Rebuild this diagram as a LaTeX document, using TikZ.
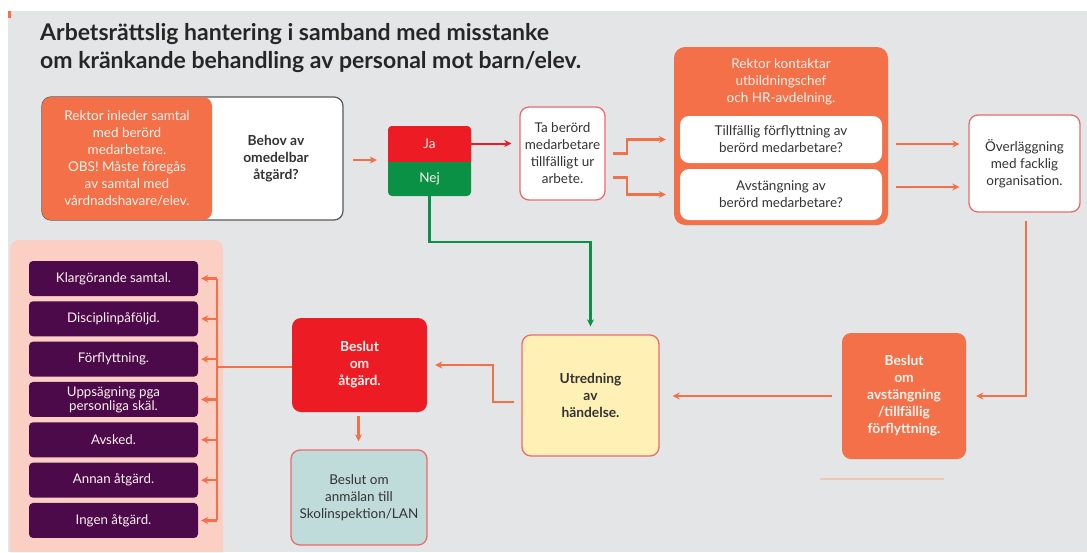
\documentclass[tikz,border=0pt]{standalone}
\usepackage{fontspec}
\setmainfont{Lato}
\usetikzlibrary{arrows.meta,calc}
\definecolor{bg}{HTML}{E4E5E7}
\definecolor{org}{HTML}{F37048}
\definecolor{rd}{HTML}{ED1C24}
\definecolor{gr}{HTML}{0A9146}
\definecolor{pur}{HTML}{4D0A4B}
\definecolor{pink}{HTML}{FBCFC4}
\definecolor{yel}{HTML}{FFF1B6}
\definecolor{teal}{HTML}{C0DCDA}
\definecolor{bord}{HTML}{EE6B6B}
\definecolor{txt}{HTML}{333333}
\definecolor{wtxt}{HTML}{FFF3EE}
\definecolor{faint}{HTML}{F2C6B4}
\tikzset{
  base/.style={align=center, inner sep=0pt, rounded corners=9pt},
  plain/.style={base, font=\fontsize{13.5}{17}\selectfont, text=txt},
  bold/.style={base, font=\bfseries\fontsize{13.8}{17}\selectfont},
  wbox/.style={plain, fill=white, draw=bord, line width=1.3pt},
  purbox/.style={base, rounded corners=4pt, fill=pur, text=wtxt, minimum width=169pt, minimum height=35pt, font=\fontsize{13.3}{14}\selectfont},
  titletxt/.style={anchor=base west, inner sep=0pt, text=black!85, font=\bfseries\fontsize{23}{28}\selectfont},
  oarrow/.style={draw=org, line width=2.2pt, -{Stealth[length=7pt,width=7pt]}},
  oline/.style={draw=org, line width=2.2pt},
}
\begin{document}
\begin{tikzpicture}[x=1pt,y=-1pt]
\useasboundingbox (0,0) rectangle (1087,552);
\fill[white] (0,0) rectangle (1087,552);
\fill[bg] (8,11) rectangle (1087,552);
\fill[org] (8,11) rectangle (11,18);

% title
\node[titletxt] (title1) at (40,40) {Arbetsrättslig hantering i samband med misstanke};
\node[titletxt] (title2) at (40,68) {om kränkande behandling av personal mot barn/elev.};

% first pair of boxes
\node[base, fill=white, draw=black!65, line width=1.2pt, minimum width=301pt, minimum height=123pt] (B) at (192.5,158.5) {};
\node[bold, text=txt, anchor=center] (Btxt) at (276,159) {Behov av\\omedelbar\\åtgärd?};
\node[plain, fill=org, text=wtxt, minimum width=170pt, minimum height=123pt] (A) at (127,158.5)
  {Rektor inleder samtal\\med berörd\\medarbetare.\\OBS! Måste föregås\\av samtal med\\vårdnadshavare/elev.};

% Ja / Nej
\begin{scope}
\fill[gr, rounded corners=4pt] (388,126) rectangle (471,196);
\clip (388,126) rectangle (471,161);
\fill[rd, rounded corners=4pt] (388,126) rectangle (471,196);
\end{scope}
\node[plain, text=wtxt, minimum width=83pt, minimum height=35pt] (ja) at (429.5,143.5) {Ja};
\node[plain, text=wtxt, minimum width=83pt, minimum height=35pt] (nej) at (429.5,178.5) {Nej};

% Ta berörd
\node[wbox, minimum width=85pt, minimum height=93pt, text depth=0pt] (ta) at (562.5,153.5)
  {Ta berörd\\medarbetare\\tillfälligt ur\\arbete.};

% big orange box
\node[base, rounded corners=11pt, fill=org, minimum width=214pt, minimum height=178pt] (big) at (781,136) {};
\node[plain, text=wtxt] (bigtxt) at (781,82) {Rektor kontaktar\\utbildningschef\\och HR-avdelning.};
\node[plain, fill=white, minimum width=202pt, minimum height=47pt] (tillf) at (781,139.5)
  {Tillfällig förflyttning av\\berörd medarbetare?};
\node[plain, fill=white, minimum width=202pt, minimum height=51pt] (avst) at (781,194.5)
  {Avstängning av\\berörd medarbetare?};

% Överläggning
\node[wbox, minimum width=111pt, minimum height=97pt] (over) at (1024.5,163.5)
  {Överläggning\\med facklig\\organisation.};

% Beslut om avstängning
\node[bold, fill=org, text=wtxt, minimum width=124pt, minimum height=126pt] (bav) at (904,396)
  {Beslut\\om\\avstängning\\/tillfällig\\förflyttning.};
\draw[draw=faint, line width=2pt] (820,479) -- (944,479);

% Utredning
\node[bold, text=txt, fill=yel, draw=bord, line width=1.3pt, minimum width=137pt, minimum height=121pt] (utr) at (590.5,395.5)
  {Utredning\\av\\händelse.};

% Beslut om åtgärd
\node[bold, fill=rd, text=wtxt, minimum width=135pt, minimum height=94pt] (bsa) at (359.5,365)
  {Beslut\\om\\åtgärd.};

% Beslut om anmälan
\node[plain, fill=teal, draw=bord, line width=1.3pt, minimum width=136pt, minimum height=95pt] (anm) at (359,497.5)
  {Beslut om\\anmälan till\\Skolinspektion/LAN};

% pink panel and purple boxes
\fill[pink, rounded corners=9pt] (10,552) -- (10,240) -- (223,240) -- (223,552);
\foreach \i/\t [count=\k] in {0/{Klargörande samtal.},1/{Disciplinpåföljd.},2/{Förflyttning.},3/{Uppsägning pga\\personliga skäl.},4/{Avsked.},5/{Annan åtgärd.},6/{Ingen åtgärd.}}{
  \node[purbox] (m\k) at (113.5,{278.5+40.33*\i}) {\t};
}
\coordinate (bus) at (217,367);

% connectors
\draw[oarrow] ([xshift=9pt]B.east |- 0,160) -- ([xshift=-11pt]ja.west |- 0,160);
\draw[draw=rd, line width=2pt, -{Stealth[length=7pt,width=7pt]}] (ja.east) -- ([xshift=-8pt]ta.west |- ja.east);
\draw[oarrow] ([xshift=7pt]ta.east) -- ++(14,0) |- ([xshift=-8pt]big.west |- tillf.west);
\draw[oarrow] ([xshift=7pt,yshift=-24pt]ta.east) -- ++(14,0) |- ([xshift=-8pt]big.west |- avst.west);
\draw[oarrow] ([xshift=8pt,yshift=-4.5pt]big.east |- tillf.east) -- ([xshift=-9pt,yshift=-4.5pt]over.west |- tillf.east);
\draw[oarrow] ([xshift=8pt,yshift=7.5pt]big.east |- avst.east) -- ([xshift=-9pt,yshift=7.5pt]over.west |- avst.east);
\draw[oarrow] ([xshift=1.5pt,yshift=-8pt]over.south) |- ([xshift=10pt]bav.east);
\draw[oarrow] ([xshift=-10pt]bav.west) -- ([xshift=13pt]utr.east |- bav.west);
\draw[draw=gr, line width=2.2pt, -{Stealth[length=7pt,width=7pt]}] (nej.south) -- (nej.south |- 0,242) -| ([yshift=8pt]utr.north);
\draw[oarrow] ([xshift=-7pt,yshift=-6.5pt]utr.west) -- ++(-21,0) |- ([xshift=8pt]bsa.east);
\draw[oarrow] ([xshift=-1pt,yshift=-4pt]bsa.south) -- ([yshift=8pt]anm.north -| 358.5,0);
\draw[oline] (bsa.west |- bus) -- (bus);
\draw[oline] (bus |- m1.east) -- (bus |- m7.east);
\foreach \k in {1,...,7}{
  \draw[oarrow] (bus |- m\k.east) -- ([xshift=3pt]m\k.east);
}
\end{tikzpicture}
\end{document}
